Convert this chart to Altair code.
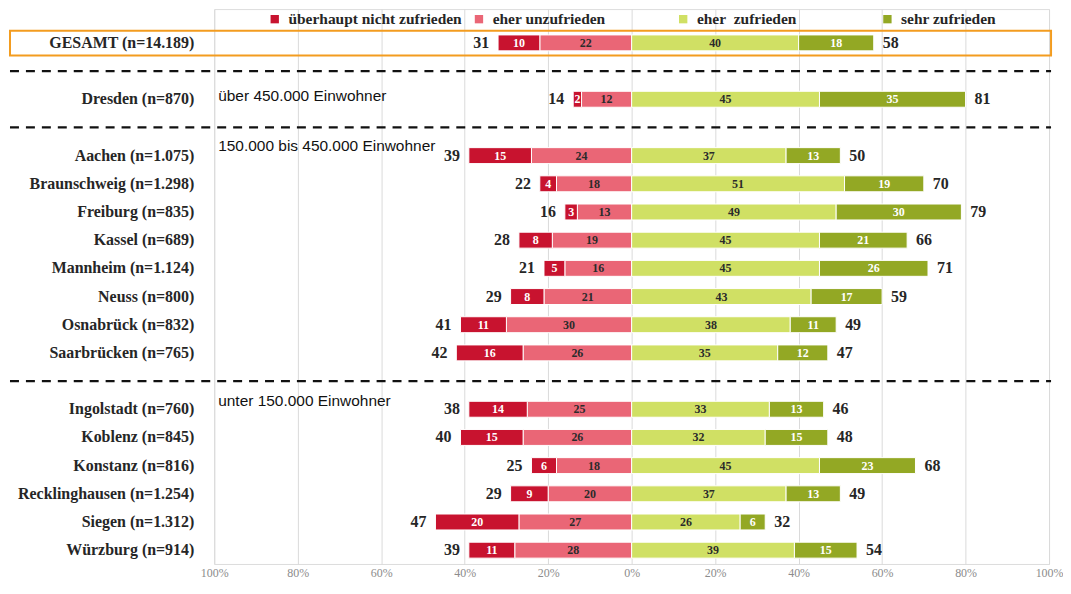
import altair as alt
import pandas as pd

labels = ["GESAMT (n=14.189)", "Dresden (n=870)", "Aachen (n=1.075)", "Braunschweig (n=1.298)",
          "Freiburg (n=835)", "Kassel (n=689)", "Mannheim (n=1.124)", "Neuss (n=800)",
          "Osnabrück (n=832)", "Saarbrücken (n=765)", "Ingolstadt (n=760)", "Koblenz (n=845)",
          "Konstanz (n=816)", "Recklinghausen (n=1.254)", "Siegen (n=1.312)", "Würzburg (n=914)"]
slots = [0, 2, 4, 5, 6, 7, 8, 9, 10, 11, 13, 14, 15, 16, 17, 18]
gar_nicht = [10, 2, 15, 4, 3, 8, 5, 8, 11, 16, 14, 15, 6, 9, 20, 11]
eher_un = [22, 12, 24, 18, 13, 19, 16, 21, 30, 26, 25, 26, 18, 20, 27, 28]
eher_zu = [40, 45, 37, 51, 49, 45, 45, 43, 38, 35, 33, 32, 45, 37, 26, 39]
sehr_zu = [18, 35, 13, 19, 30, 21, 26, 17, 11, 12, 13, 15, 23, 13, 6, 15]
neg_total = [31, 14, 39, 22, 16, 28, 21, 29, 41, 42, 38, 40, 25, 29, 47, 39]
pos_total = [58, 81, 50, 70, 79, 66, 71, 59, 49, 47, 46, 48, 68, 49, 32, 54]

group_names = ["über 450.000 Einwohner", "150.000 bis 450.000 Einwohner", "unter 150.000 Einwohner"]
group_slots = [1.9, 3.66, 12.7]
separator_slots = [1, 3, 12]

cats = ["überhaupt nicht zufrieden", "eher unzufrieden", "eher\u00a0 zufrieden", "sehr zufrieden"]
colors = ["#C8132F", "#EA6676", "#D0E064", "#93A824"]
text_colors = {cats[0]: "white", cats[1]: "#2b2b2b", cats[2]: "#2b2b2b", cats[3]: "white"}

rows = []
for i in range(len(labels)):
    a, b, c, d = gar_nicht[i], eher_un[i], eher_zu[i], sehr_zu[i]
    for cat, x0, x1, v in [(cats[1], 0, -b, b), (cats[0], -b, -(a + b), a),
                           (cats[2], 0, c, c), (cats[3], c, c + d, d)]:
        rows.append({"slot": slots[i], "cat": cat, "x0": x0, "x1": x1,
                     "mid": (x0 + x1) / 2, "val": v, "tc": text_colors[cat]})
seg = pd.DataFrame(rows)

tot = pd.DataFrame({
    "slot": slots, "label": labels,
    "neg_end": [-(a + b) for a, b in zip(gar_nicht, eher_un)],
    "pos_end": [c + d for c, d in zip(eher_zu, sehr_zu)],
    "neg_total": neg_total, "pos_total": pos_total,
})
grp = pd.DataFrame({"g": group_names, "gy": group_slots})
sep = pd.DataFrame({"slot": separator_slots})
box = pd.DataFrame({"slot": [0]})

yscale = alt.Scale(domain=[-1.2, 18.49], reverse=True, nice=False, zero=False, padding=0)
xscale = alt.Scale(domain=[-100, 100], nice=False, zero=False, padding=0)
xaxis = alt.Axis(values=list(range(-100, 101, 20)), labelExpr="abs(datum.value) + '%'",
                 grid=True, gridColor="#DADADA", gridWidth=1, domain=False, ticks=False,
                 title=None, labelColor="#8c8c8c", labelFont="Liberation Serif",
                 labelFontSize=12, labelPadding=4, labelFlush=False)


def X(field):
    return alt.X(field, scale=xscale, axis=xaxis, title=None)


def Y(field):
    return alt.Y(field, scale=yscale, axis=None, title=None)


SERIF = "Liberation Serif"

bars = alt.Chart(seg).mark_bar(size=16, stroke="white", strokeWidth=1).encode(
    x=X("x0:Q"), x2="x1:Q", y=Y("slot:Q"),
    color=alt.Color("cat:N", scale=alt.Scale(domain=cats, range=colors),
                    legend=alt.Legend(title=None, orient="none", legendX=53, legendY=2,
                                      direction="horizontal", symbolType="square",
                                      symbolSize=70, symbolStrokeWidth=0,
                                      labelFont=SERIF, labelFontWeight="bold",
                                      labelFontSize=15.5, labelColor="#262626",
                                      labelLimit=300, columnPadding=9, gridAlign="all",
                                      labelOffset=6)),
)

inner = alt.Chart(seg).mark_text(font=SERIF, fontWeight="bold", fontSize=12).encode(
    x=X("mid:Q"), y=Y("slot:Q"), text="val:Q", color=alt.Color("tc:N", scale=None)
)

neg_txt = alt.Chart(tot).mark_text(font=SERIF, fontWeight="bold", fontSize=16,
                                   align="right", dx=-9, color="#262626").encode(
    x=X("neg_end:Q"), y=Y("slot:Q"), text="neg_total:Q"
)
pos_txt = alt.Chart(tot).mark_text(font=SERIF, fontWeight="bold", fontSize=16,
                                   align="left", dx=9, color="#262626").encode(
    x=X("pos_end:Q"), y=Y("slot:Q"), text="pos_total:Q"
)

row_labels = alt.Chart(tot).mark_text(font=SERIF, fontWeight="bold", fontSize=16,
                                      align="right", color="#262626").encode(
    x=alt.value(-20), y=Y("slot:Q"), text="label:N"
)

group_labels = alt.Chart(grp).mark_text(font="Liberation Sans", fontSize=15.5,
                                        align="left", color="#111111").encode(
    x=alt.value(4), y=Y("gy:Q"), text="g:N"
)

separators = alt.Chart(sep).mark_rule(strokeDash=[9, 7], strokeWidth=2.2, color="#111111").encode(
    x=alt.value(-205), x2=alt.value(840), y=Y("slot:Q")
)

gesamt_box = alt.Chart(box).transform_calculate(
    y0="datum.slot - 0.43", y1="datum.slot + 0.45"
).mark_rect(fillOpacity=0, stroke="#F39C1F", strokeWidth=2).encode(
    x=alt.value(-205), x2=alt.value(840), y=Y("y0:Q"), y2="y1:Q"
)

chart = alt.layer(bars, inner, neg_txt, pos_txt, row_labels, group_labels, separators,
                  gesamt_box).properties(
    width=838, height=557,
    autosize=alt.AutoSizeParams(type="none"),
    padding={"left": 207, "top": 0, "right": 14, "bottom": 15},
).configure_view(fill="#F0F0F0", stroke="#D6D6D6", strokeWidth=1).configure(background="white")

chart.save("out.html", embed_options={"renderer": "svg", "actions": False})
